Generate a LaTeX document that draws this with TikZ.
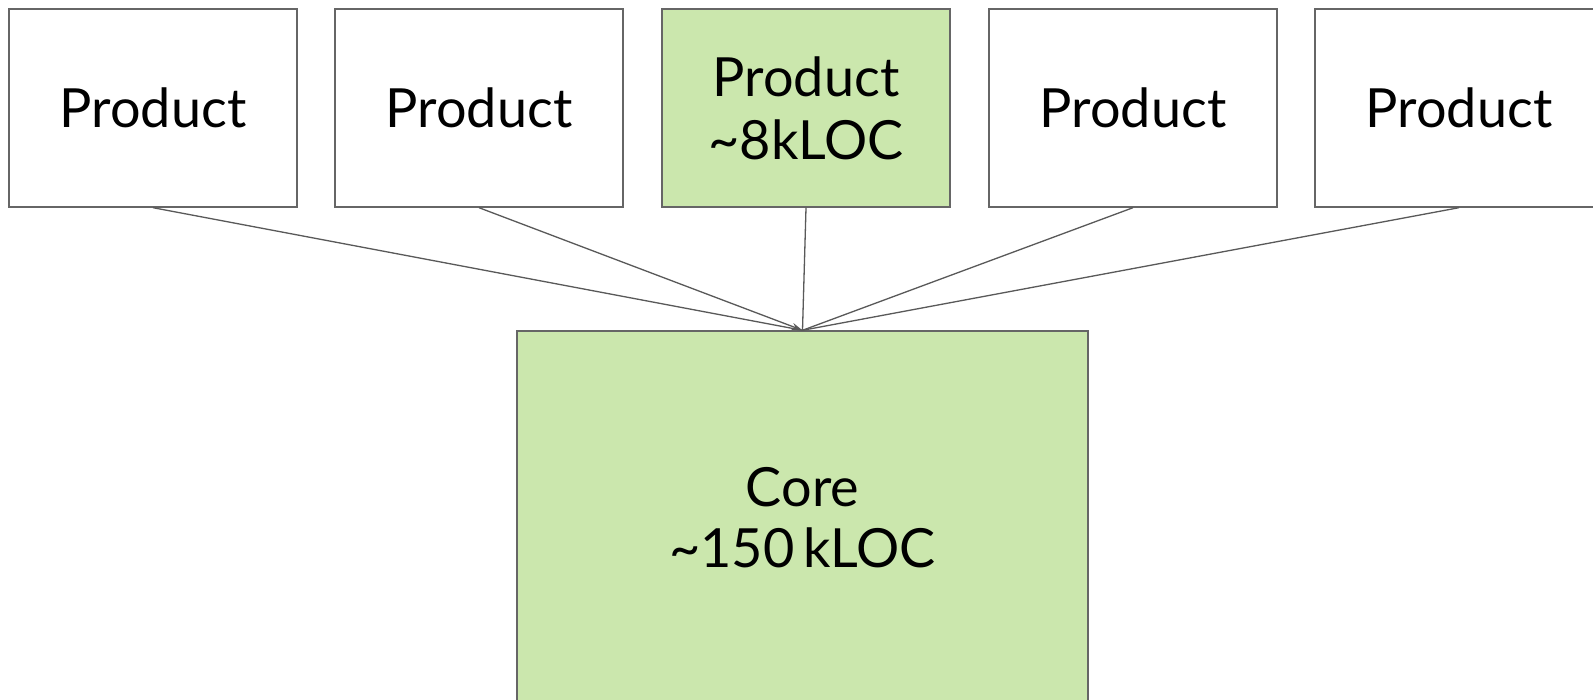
\documentclass[tikz,border=0pt]{standalone}
\usepackage{fontspec}
\setmainfont{Lato}
\usetikzlibrary{arrows.meta}
\definecolor{boxline}{HTML}{666666}
\definecolor{linkline}{HTML}{595959}
\definecolor{leaf}{HTML}{CBE7AD}
\begin{document}
\begin{tikzpicture}[x=1pt,y=1pt,
  prod/.style={draw=boxline,line width=1.4pt,minimum width=288pt,minimum height=198pt,
    inner sep=0pt,align=center,font=\fontsize{54}{63}\selectfont},
  corebox/.style={draw=boxline,line width=1.4pt,fill=leaf,minimum width=571pt,minimum height=374pt,
    inner sep=0pt,align=center,font=\fontsize{54}{61}\selectfont},
  link/.style={draw=linkline,line width=1.3pt}]
\useasboundingbox (0,0) rectangle (1593,699);
\clip (0,0) rectangle (1593,699);
\fill[white] (0,0) rectangle (1593,699);
\node[prod] (p1) at (153,591) {Product};
\node[prod] (p2) at (479,591) {Product};
\node[prod,fill=leaf] (p3) at (806,591) {Product\\\textasciitilde8kLOC};
\node[prod] (p4) at (1133,591) {Product};
\node[prod] (p5) at (1459,591) {Product};
\node[corebox] (core) at (802.5,181) {Core\\\textasciitilde150\,kLOC};
\draw[link] (p1.south) -- (core.north);
\draw[link,-{Stealth[length=11pt,width=7pt]}] (p2.south) -- (core.north);
\draw[link] (p3.south) -- (core.north);
\draw[link] (p4.south) -- (core.north);
\draw[link] (p5.south) -- (core.north);
\end{tikzpicture}
\end{document}
